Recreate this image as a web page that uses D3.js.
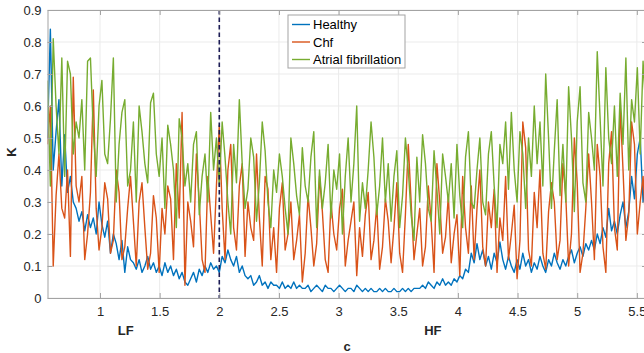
<!DOCTYPE html>
<html><head><meta charset="utf-8">
<script src="https://cdn.jsdelivr.net/npm/d3@7"></script>
<style>body{margin:0;background:#fff}svg{display:block;font-family:"Liberation Sans",Arial,sans-serif}</style>
</head><body>
<script>
const xStart = 0.56, xStep = 0.024;
const xTicks = [1, 1.5, 2, 2.5, 3, 3.5, 4, 4.5, 5, 5.5];
const yTicks = [0, 0.1, 0.2, 0.3, 0.4, 0.5, 0.6, 0.7, 0.8, 0.9];
const seriesNames = ["Healthy", "Chf", "Atrial fibrillation"];
const seriesColors = ["#0072BD", "#D95319", "#77AC30"];
const bandLabels = [{text: "LF", c: 1.215}, {text: "HF", c: 3.79}];
const dividerC = 2;

const healthy = [
0.50,0.84,0.40,0.52,0.62,0.35,0.51,0.33,0.38,0.30,
0.28,0.24,0.27,0.21,0.26,0.22,0.25,0.20,0.30,0.23,
0.19,0.24,0.14,0.20,0.17,0.12,0.18,0.08,0.16,0.12,
0.11,0.09,0.12,0.08,0.10,0.13,0.09,0.11,0.08,0.10,
0.07,0.11,0.08,0.10,0.07,0.09,0.06,0.08,0.05,0.04,
0.06,0.08,0.05,0.09,0.07,0.10,0.08,0.11,0.09,0.10,
0.08,0.13,0.11,0.15,0.12,0.10,0.13,0.08,0.10,0.07,
0.06,0.07,0.04,0.05,0.07,0.04,0.05,0.03,0.05,0.04,
0.04,0.03,0.05,0.03,0.04,0.03,0.05,0.03,0.04,0.03,
0.03,0.04,0.02,0.03,0.04,0.03,0.02,0.04,0.03,0.03,
0.02,0.03,0.04,0.03,0.02,0.03,0.03,0.02,0.04,0.03,
0.02,0.03,0.02,0.03,0.02,0.02,0.03,0.02,0.03,0.02,
0.02,0.03,0.02,0.02,0.03,0.02,0.03,0.02,0.03,0.03,
0.03,0.04,0.03,0.05,0.04,0.03,0.05,0.04,0.06,0.04,
0.05,0.04,0.06,0.05,0.07,0.06,0.09,0.08,0.14,0.11,
0.17,0.12,0.15,0.10,0.13,0.09,0.14,0.11,0.175,0.12,
0.09,0.13,0.10,0.08,0.12,0.09,0.14,0.10,0.12,0.08,
0.11,0.09,0.13,0.10,0.08,0.12,0.10,0.14,0.11,0.09,
0.12,0.10,0.13,0.15,0.11,0.14,0.16,0.13,0.17,0.15,
0.18,0.15,0.20,0.17,0.22,0.19,0.28,0.21,0.24,0.20,
0.26,0.30,0.22,0.27,0.38,0.31,0.45,0.50,0.30,0.42];

const chf = [
0.48,0.60,0.10,0.32,0.45,0.28,0.25,0.40,0.13,0.69,
0.35,0.30,0.38,0.12,0.20,0.33,0.65,0.28,0.15,0.22,
0.36,0.31,0.14,0.18,0.40,0.33,0.12,0.16,0.28,0.38,
0.24,0.10,0.30,0.36,0.22,0.09,0.14,0.32,0.25,0.08,
0.28,0.20,0.35,0.31,0.12,0.42,0.25,0.58,0.04,0.30,
0.24,0.16,0.45,0.30,0.12,0.08,0.38,0.26,0.14,0.35,
0.54,0.28,0.12,0.40,0.48,0.22,0.15,0.35,0.42,0.13,
0.30,0.22,0.18,0.45,0.25,0.10,0.38,0.34,0.12,0.22,
0.08,0.28,0.36,0.15,0.20,0.30,0.12,0.18,0.26,0.05,
0.14,0.32,0.22,0.10,0.17,0.38,0.27,0.12,0.08,0.30,
0.20,0.15,0.28,0.34,0.10,0.18,0.24,0.30,0.07,0.22,
0.13,0.26,0.33,0.12,0.18,0.29,0.09,0.16,0.31,0.24,
0.11,0.22,0.36,0.14,0.08,0.26,0.48,0.30,0.12,0.20,
0.28,0.10,0.16,0.35,0.24,0.08,0.42,0.30,0.14,0.19,
0.32,0.11,0.20,0.26,0.07,0.38,0.22,0.14,0.35,0.12,
0.28,0.40,0.16,0.10,0.30,0.22,0.34,0.08,0.25,0.18,
0.38,0.12,0.20,0.29,0.06,0.18,0.55,0.47,0.15,0.10,
0.33,0.22,0.40,0.14,0.09,0.27,0.36,0.30,0.12,0.18,
0.42,0.32,0.10,0.20,0.50,0.36,0.08,0.14,0.28,0.45,
0.30,0.12,0.48,0.38,0.16,0.08,0.42,0.52,0.22,0.15,
0.60,0.40,0.18,0.26,0.55,0.48,0.20,0.30,0.38,0.22];

const af = [
0.68,0.35,0.81,0.60,0.45,0.75,0.38,0.74,0.70,0.45,
0.55,0.50,0.62,0.40,0.74,0.75,0.52,0.38,0.60,0.68,
0.45,0.42,0.56,0.75,0.30,0.48,0.58,0.62,0.35,0.40,
0.55,0.30,0.60,0.52,0.42,0.36,0.61,0.64,0.45,0.38,
0.50,0.28,0.54,0.48,0.40,0.22,0.56,0.50,0.35,0.42,
0.30,0.48,0.52,0.26,0.38,0.45,0.30,0.58,0.40,0.50,
0.35,0.55,0.44,0.30,0.20,0.48,0.36,0.62,0.42,0.28,
0.34,0.50,0.44,0.24,0.36,0.55,0.46,0.30,0.22,0.40,
0.33,0.45,0.38,0.28,0.20,0.50,0.42,0.32,0.26,0.47,
0.35,0.30,0.44,0.52,0.22,0.40,0.28,0.36,0.48,0.25,
0.40,0.34,0.45,0.20,0.38,0.50,0.30,0.42,0.60,0.24,
0.36,0.28,0.40,0.55,0.44,0.26,0.35,0.50,0.30,0.42,
0.24,0.38,0.46,0.22,0.32,0.50,0.40,0.26,0.18,0.44,
0.30,0.51,0.42,0.28,0.24,0.46,0.34,0.20,0.45,0.38,
0.30,0.42,0.25,0.48,0.32,0.22,0.44,0.52,0.30,0.28,
0.40,0.50,0.30,0.26,0.45,0.52,0.35,0.22,0.48,0.42,
0.55,0.34,0.58,0.40,0.30,0.52,0.45,0.28,0.50,0.38,
0.60,0.42,0.55,0.35,0.70,0.50,0.28,0.46,0.62,0.32,
0.48,0.30,0.66,0.50,0.27,0.55,0.66,0.36,0.30,0.58,
0.50,0.40,0.77,0.56,0.35,0.72,0.50,0.42,0.60,0.38,
0.64,0.48,0.75,0.40,0.62,0.55,0.72,0.45,0.74,0.58];

const W = 644, H = 353;
const L = 47.5, R = 647, T = 10, B = 298;
const svg = d3.select("body").append("svg").attr("width", W).attr("height", H);
const x = d3.scaleLinear().domain([0.56, 5.585]).range([L, R]);
const y = d3.scaleLinear().domain([0, 0.9]).range([B, T]);
const textColor = "#262626", boxColor = "#a3a3a3", gridColor = "#ebebeb";

// grid
svg.append("g").selectAll("line").data(xTicks).join("line")
  .attr("x1", d => x(d)).attr("x2", d => x(d)).attr("y1", T).attr("y2", B)
  .attr("stroke", gridColor).attr("stroke-width", 1);
svg.append("g").selectAll("line").data(yTicks).join("line")
  .attr("x1", L).attr("x2", R).attr("y1", d => y(d)).attr("y2", d => y(d))
  .attr("stroke", gridColor).attr("stroke-width", 1);

// clip
svg.append("clipPath").attr("id", "clip").append("rect")
  .attr("x", L).attr("y", T).attr("width", R - L).attr("height", B - T);

const all = [healthy, chf, af];
const line = d3.line().x((d, i) => x(xStart + i * xStep)).y(d => y(d));
const plot = svg.append("g").attr("clip-path", "url(#clip)");
all.forEach((s, k) => {
  plot.append("path").datum(s).attr("d", line).attr("fill", "none")
    .attr("stroke", seriesColors[k]).attr("stroke-width", 1.4).attr("stroke-linejoin", "round");
});

// dashed divider
svg.append("line").attr("x1", x(dividerC)).attr("x2", x(dividerC)).attr("y1", T).attr("y2", B)
  .attr("stroke", "#1c1c55").attr("stroke-width", 1.6).attr("stroke-dasharray", "4.5,3");

// axes
const xAxisB = d3.axisBottom(x).tickValues(xTicks).tickSizeInner(-5).tickSizeOuter(0).tickPadding(9).tickFormat(d3.format("~g"));
const yAxisL = d3.axisLeft(y).tickValues(yTicks).tickSizeInner(-5).tickSizeOuter(0).tickPadding(6).tickFormat(d => d === 0 ? "0" : d3.format(".1f")(d));
const gx = svg.append("g").attr("transform", `translate(0,${B})`).call(xAxisB);
const gy = svg.append("g").attr("transform", `translate(${L},0)`).call(yAxisL);
const gxt = svg.append("g").attr("transform", `translate(0,${T})`).call(d3.axisTop(x).tickValues(xTicks).tickSizeInner(-5).tickSizeOuter(0).tickFormat(""));
const gyr = svg.append("g").attr("transform", `translate(${R},0)`).call(d3.axisRight(y).tickValues(yTicks).tickSizeInner(-5).tickSizeOuter(0).tickFormat(""));
[gx, gy, gxt, gyr].forEach(g => {
  g.select(".domain").attr("stroke", boxColor);
  g.selectAll(".tick line").attr("stroke", boxColor);
  g.selectAll(".tick text").attr("fill", textColor).attr("font-size", 13)
    .attr("font-family", "Liberation Sans, Arial, sans-serif");
});

// axis labels
svg.append("text").attr("x", 347).attr("y", 351).attr("text-anchor", "middle")
  .attr("font-size", 13).attr("font-weight", "bold").attr("fill", textColor).text("c");
svg.append("text").attr("transform", "translate(16,152) rotate(-90)").attr("text-anchor", "middle")
  .attr("font-size", 13).attr("font-weight", "bold").attr("fill", textColor).text("K");
svg.selectAll(".band").data(bandLabels).join("text").attr("class", "band")
  .attr("x", d => x(d.c)).attr("y", 335).attr("text-anchor", "middle")
  .attr("font-size", 13).attr("font-weight", "bold").attr("fill", textColor).text(d => d.text);

// legend
const lg = svg.append("g").attr("transform", "translate(288,15)");
lg.append("rect").attr("width", 117).attr("height", 53).attr("fill", "#fff").attr("stroke", boxColor).attr("stroke-width", 1);
seriesNames.forEach((n, k) => {
  const yy = 9.5 + k * 17.5;
  lg.append("line").attr("x1", 4).attr("x2", 22).attr("y1", yy).attr("y2", yy)
    .attr("stroke", seriesColors[k]).attr("stroke-width", 1.4);
  lg.append("text").attr("x", 25).attr("y", yy + 4.5).attr("font-size", 13).attr("fill", "#000").text(n);
});
</script>
</body></html>
